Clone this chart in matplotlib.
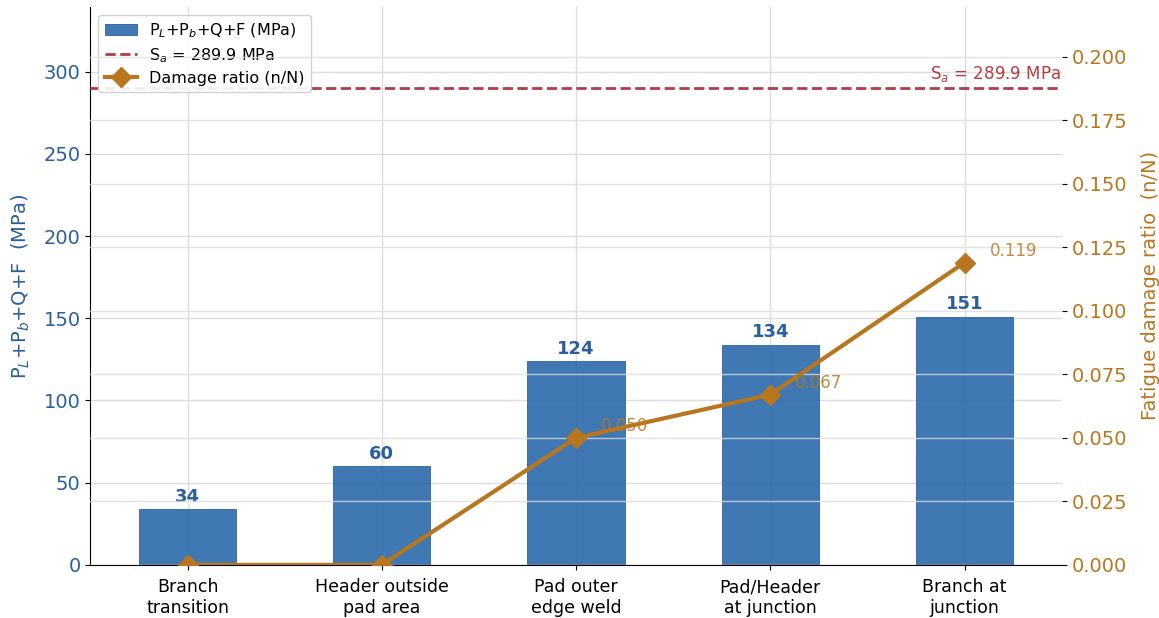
import numpy as np
import matplotlib.pyplot as plt

# stress ranges and fatigue damage at each location
locations = ['Branch\ntransition', 'Header outside\npad area', 'Pad outer\nedge weld',
             'Pad/Header\nat junction', 'Branch at\njunction']
stress = [34, 60, 124, 134, 151]
damage = [0.0, 0.0, 0.050, 0.067, 0.119]
s_allow = 289.9

bar_color = '#2f6cad'
line_color = '#b8761f'
sa_color = '#b23e42'
blue_txt = '#2a5f9e'

fig, ax = plt.subplots(figsize=(11.59, 6.18), dpi=100)
fig.subplots_adjust(left=0.078, right=0.916, top=0.989, bottom=0.086)

x = np.arange(len(locations))
ax.bar(x, stress, width=0.5, color=bar_color, alpha=0.92, edgecolor='#245a92',
       linewidth=0.6, zorder=2, label='P$_L$+P$_b$+Q+F (MPa)')
for xi, v in zip(x, stress):
    ax.text(xi, v + 2, f'{v}', ha='center', va='bottom', fontsize=13,
            fontweight='bold', color=blue_txt, zorder=4)

ax.axhline(s_allow, color=sa_color, ls='--', lw=2, zorder=3,
           label=f'S$_a$ = {s_allow} MPa')
ax.text(4.5 - 0.005, s_allow + 2.5, f'S$_a$ = {s_allow} MPa', ha='right', va='bottom',
        fontsize=12, color=sa_color)

ax.set_xlim(-0.5, 4.5)
ax.set_ylim(0, 339.5)
ax.set_xticks(x)
ax.set_xticklabels(locations, fontsize=12.5)
ax.tick_params(axis='x', pad=6)
ax.tick_params(axis='y', labelsize=14, labelcolor=blue_txt)
ax.set_ylabel('P$_L$+P$_b$+Q+F  (MPa)', fontsize=14, color=blue_txt, labelpad=8)
ax.grid(True, color='#dddddd', lw=1, zorder=0)
ax.set_axisbelow(True)
for s in ['top', 'right']:
    ax.spines[s].set_visible(False)

ax2 = ax.twinx()
ax2.plot(x, damage, color=line_color, lw=3, marker='D', markersize=10,
         zorder=5, label='Damage ratio (n/N)')
for xi, d in zip(x, damage):
    if d > 0:
        ax2.annotate(f'{d:.3f}', (xi, d), xytext=(18, 5), textcoords='offset points',
                     fontsize=12, color=line_color, alpha=0.85)
ax2.set_ylim(0, 0.2197)
ax2.set_yticks(np.arange(0, 0.201, 0.025))
ax2.yaxis.set_major_formatter(plt.FormatStrFormatter('%.3f'))
ax2.tick_params(axis='y', labelsize=14, labelcolor=line_color)
ax2.set_ylabel('Fatigue damage ratio  (n/N)', fontsize=14, color=line_color, labelpad=10)
ax2.grid(True, axis='y', color='#dddddd', lw=1, alpha=0.8)
for s in ['top', 'right', 'left', 'bottom']:
    ax2.spines[s].set_visible(False)

h1, l1 = ax.get_legend_handles_labels()
h2, l2 = ax2.get_legend_handles_labels()
order = [l1.index('P$_L$+P$_b$+Q+F (MPa)'), l1.index(f'S$_a$ = {s_allow} MPa')]
handles = [h1[i] for i in order] + h2
labels = [l1[i] for i in order] + l2
ax.legend(handles, labels, loc='upper left', fontsize=11.5, framealpha=0.9,
          labelspacing=0.4)

fig.savefig('out.png', dpi=100)
